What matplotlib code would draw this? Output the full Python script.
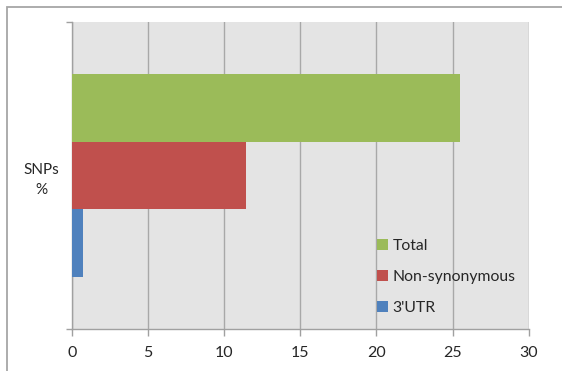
import matplotlib
matplotlib.use("Agg")
import matplotlib.pyplot as plt
from matplotlib.patches import Rectangle

# SNP percentages (single category, three series)
category = "SNPs\n%"
series = ["Total", "Non-synonymous", "3'UTR"]
values = [25.5, 11.45, 0.75]
colors = ["#9BBB59", "#C0504D", "#4F81BD"]
xticks = [0, 5, 10, 15, 20, 25, 30]

plt.rcParams["font.family"] = ["Lato", "DejaVu Sans"]

fig = plt.figure(figsize=(5.62, 3.71), dpi=100)
fig.patch.set_facecolor("white")

# outer chart frame, open to the right and bottom
fig.add_artist(Rectangle((7 / 562, -0.1), 1.2, 1 - 7 / 371 + 0.1,
                         transform=fig.transFigure, fill=False,
                         edgecolor="#a6a6a6", lw=1.3))

ax = fig.add_axes([71.7 / 562, 41.7 / 371, 457 / 562, 307.3 / 371])
ax.set_facecolor("#e4e4e4")

bar_h = 0.22
offsets = [bar_h, 0, -bar_h]
for name, val, col, off in zip(series, values, colors, offsets):
    ax.barh(off, val, height=bar_h, color=col, label=name, zorder=3)

ax.set_xlim(0, 30)
ax.set_ylim(-0.5, 0.5)
ax.set_xticks(xticks)
ax.set_xticklabels([str(t) for t in xticks])
ax.xaxis.grid(True, color="#a8a8a8", lw=1.0, zorder=1)
ax.set_axisbelow(True)

ax.set_yticks([-0.5, 0.5])
ax.set_yticklabels(["", ""])
ax.set_yticks([0], minor=True)
ax.set_yticklabels([category], minor=True, fontsize=11, color="#262626",
                   ha="center", linespacing=1.5)
ax.tick_params(axis="y", which="minor", length=0, pad=22)
ax.tick_params(axis="y", which="major", length=4, color="#a0a0a0", width=1)
ax.tick_params(axis="x", length=5, color="#a0a0a0", width=1,
               labelsize=11.5, labelcolor="#262626", pad=7)

for s in ["top", "right"]:
    ax.spines[s].set_visible(False)
for s in ["left", "bottom"]:
    ax.spines[s].set_color("#a0a0a0")
    ax.spines[s].set_linewidth(1)

leg = ax.legend(loc="upper left", bbox_to_anchor=(0.668, 0.293), frameon=False,
                fontsize=11.3, handlelength=0.7, handleheight=0.7,
                handletextpad=0.3, labelspacing=1.08, borderpad=0,
                borderaxespad=0)
for t in leg.get_texts():
    t.set_color("#262626")

fig.savefig("out.png", dpi=100)
